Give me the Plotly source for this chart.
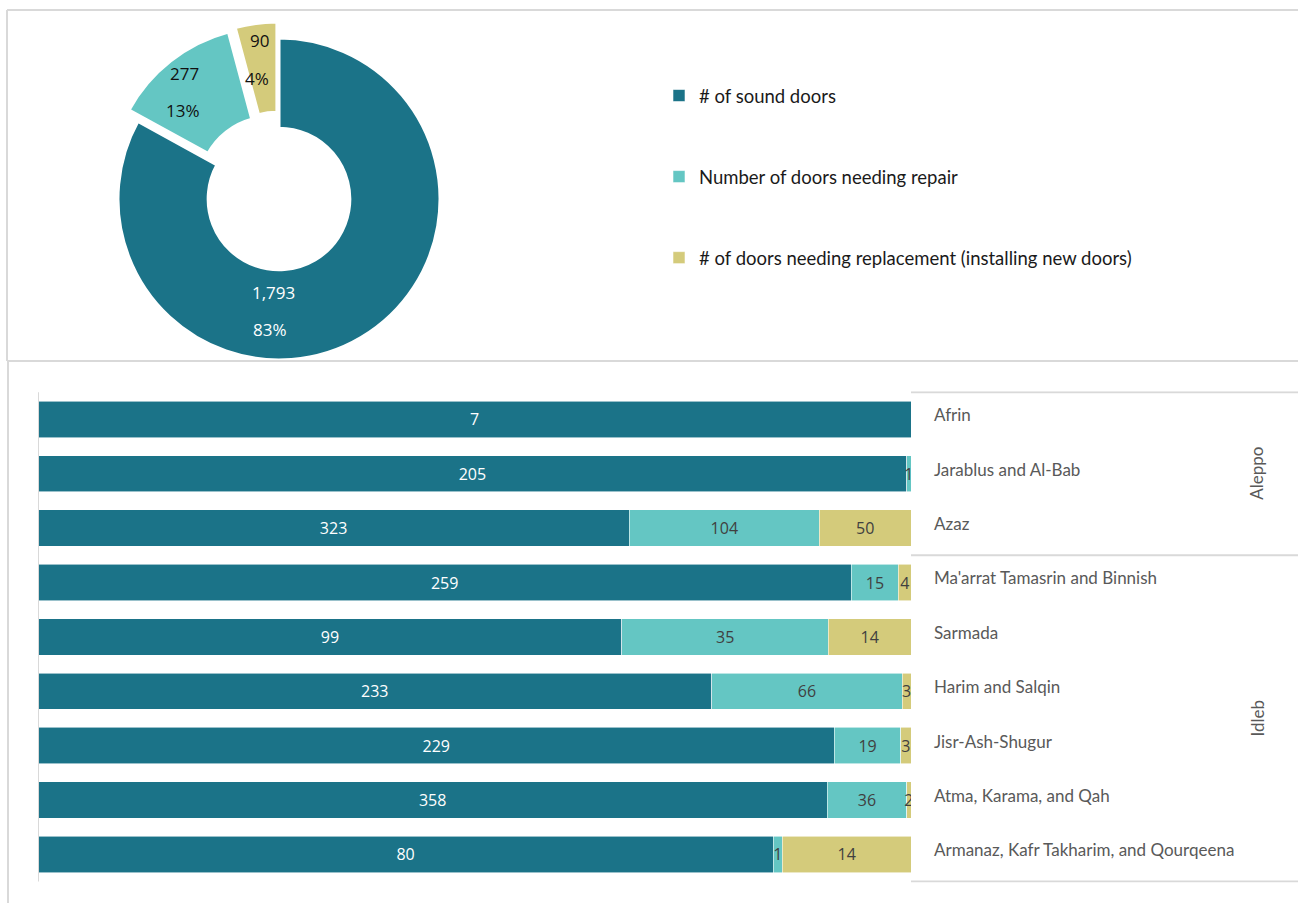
import plotly.graph_objects as go

# Door condition survey by sub-district
regions = [
    "Afrin", "Jarablus and Al-Bab", "Azaz",
    "Ma'arrat Tamasrin and Binnish", "Sarmada", "Harim and Salqin",
    "Jisr-Ash-Shugur", "Atma, Karama, and Qah",
    "Armanaz, Kafr Takharim, and Qourqeena",
]
governorates = ["Aleppo"] * 3 + ["Idleb"] * 6

sound_doors = [7, 205, 323, 259, 99, 233, 229, 358, 80]
repair_doors = [0, 1, 104, 15, 35, 66, 19, 36, 1]
replace_doors = [0, 0, 50, 4, 14, 3, 3, 2, 14]

series_names = [
    "# of sound doors",
    "Number of doors needing repair",
    "# of doors needing replacement (installing new doors)",
]

# ---- styling ----
W, H = 1298, 903
COLORS = ["#1b7388", "#64c6c3", "#d4cb7b"]
BAR_TEXT = ["#ffffff", "#404040", "#404040"]
PIE_TEXT = ["#ffffff", "#111111", "#111111"]
GRID = "#d9d9d9"
LABEL_FONT = "Lato, 'Open Sans', sans-serif"
NUM_FONT = "'Open Sans', 'Noto Sans', sans-serif"


def px(x):
    return x / W


def py(y):
    return 1 - y / H


series = [sound_doors, repair_doors, replace_doors]
totals = [sum(s) for s in series]
grand = sum(totals)

fig = go.Figure()

# ---- doughnut of overall totals ----
pie_cx, pie_cy, pie_r, max_pull = 279, 199, 161, 0.1
half = pie_r * (1 + max_pull)
fig.add_trace(go.Pie(
    values=totals,
    labels=series_names,
    sort=False,
    direction="clockwise",
    rotation=0,
    hole=0.44,
    pull=[0, 0.09, max_pull],
    marker=dict(colors=COLORS, line=dict(color="#ffffff", width=3)),
    textinfo="none",
    hoverinfo="skip",
    showlegend=False,
    domain=dict(x=[px(pie_cx - half), px(pie_cx + half)],
                y=[py(pie_cy + half), py(pie_cy - half)]),
))

# label anchors for each slice (value line, percent line)
pie_label_pos = [((273, 293), (270, 329)),
                 ((184, 73), (183, 110)),
                 ((259, 40), (257, 78))]
annotations = []
for total, (p_val, p_pct), col in zip(totals, pie_label_pos, PIE_TEXT):
    pct = round(100 * total / grand)
    for (ax_, ay_), txt in ((p_val, f"{total:,}"), (p_pct, f"{pct}%")):
        annotations.append(dict(
            x=px(ax_), y=py(ay_), xref="paper", yref="paper",
            text=txt, showarrow=False,
            font=dict(family=NUM_FONT, size=17, color=col),
            xanchor="center", yanchor="middle",
        ))

# ---- 100% stacked bars per sub-district ----
for name, vals, col, tcol in zip(series_names, series, COLORS, BAR_TEXT):
    fig.add_trace(go.Bar(
        y=regions, x=vals, name=name, orientation="h",
        marker=dict(color=col, line=dict(color="rgba(255,255,255,0.7)", width=0.8)),
        text=[str(v) if v else "" for v in vals],
        textposition="inside", insidetextanchor="middle", textangle=0,
        textfont=dict(family=NUM_FONT, size=16, color=tcol),
        hoverinfo="skip",
        legendgroup=name,
    ))

# governorate separators and labels
shapes = []
bounds = [-0.5]
for i in range(1, len(governorates)):
    if governorates[i] != governorates[i - 1]:
        bounds.append(i - 0.5)
bounds.append(len(governorates) - 0.5)
for b in bounds:
    shapes.append(dict(type="line", xref="paper", yref="y",
                       x0=px(911), x1=px(1298), y0=b, y1=b,
                       line=dict(color=GRID, width=2)))
for lo, hi in zip(bounds[:-1], bounds[1:]):
    annotations.append(dict(
        x=px(1257), y=(lo + hi) / 2, xref="paper", yref="y",
        text=governorates[int(lo + 0.5)], textangle=-90, showarrow=False,
        font=dict(family=LABEL_FONT, size=17, color="#595959"),
        xanchor="center", yanchor="middle",
    ))

# left edge of the bar area
shapes.append(dict(type="line", xref="x", yref="y", x0=0, x1=0,
                   y0=-0.5, y1=len(regions) - 0.5,
                   line=dict(color=GRID, width=2)))

# panel frames
frame = dict(color=GRID, width=2)
shapes += [
    dict(type="line", xref="paper", yref="paper", x0=px(7), x1=px(1298),
         y0=py(10), y1=py(10), line=frame),
    dict(type="line", xref="paper", yref="paper", x0=px(7), x1=px(7),
         y0=py(10), y1=py(361), line=frame),
    dict(type="line", xref="paper", yref="paper", x0=px(7), x1=px(1298),
         y0=py(361), y1=py(361), line=frame),
    dict(type="line", xref="paper", yref="paper", x0=px(8), x1=px(8),
         y0=py(362), y1=py(903), line=frame),
]

fig.update_layout(
    width=W, height=H,
    margin=dict(l=0, r=0, t=0, b=0),
    paper_bgcolor="#ffffff", plot_bgcolor="#ffffff",
    barmode="stack", barnorm="percent", bargap=0.33,
    uniformtext=dict(minsize=16, mode="show"),
    xaxis=dict(domain=[px(38), px(911)], range=[0, 100],
               showticklabels=False, showgrid=False, zeroline=False,
               showline=False, fixedrange=True),
    yaxis=dict(domain=[py(882.6), py(391.2)], autorange="reversed",
               side="right", showgrid=False, zeroline=False, showline=False,
               ticks="", ticklabelstandoff=22, ticklabelshift=4,
               tickfont=dict(family=LABEL_FONT, size=17, color="#595959"),
               fixedrange=True),
    legend=dict(x=px(659), y=py(77), xanchor="left", yanchor="top",
                font=dict(family=LABEL_FONT, size=18.5, color="#1a1a1a"),
                tracegroupgap=54, bgcolor="rgba(0,0,0,0)"),
    shapes=shapes,
    annotations=annotations,
    showlegend=True,
)

fig.write_html("out.html")
